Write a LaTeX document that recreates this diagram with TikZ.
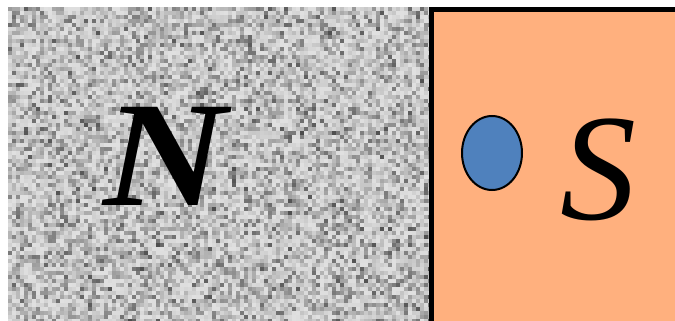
\documentclass[tikz,border=0pt]{standalone}
\usepackage{fontspec}
\usetikzlibrary{shapes.geometric}
\setmainfont{Liberation Serif}
\definecolor{sorange}{HTML}{FFB07E}
\definecolor{dotblue}{HTML}{4F81BD}
\tikzset{
  cell/.style={draw=none},
  letter/.style={inner sep=0pt, anchor=base, text=black},
}
\begin{document}
\begin{tikzpicture}[x=1pt,y=-1pt]
\useasboundingbox (0,0) rectangle (675,321);
\clip (0,0) rectangle (675,321);
\pgfmathsetseed{12345}
% noisy grey region
\fill[black!30!white] (8,7) rectangle (432,321);
\foreach \i in {0,...,105}{
  \foreach \j in {0,...,78}{
    \pgfmathsetmacro\g{int(12+60*rnd*rnd)}
    \fill[cell, black!\g!white] (8+4*\i,7+4*\j) rectangle ++(4.3,4.3);
  }
}
% N label
\node[letter, font={\fontsize{150}{150}\selectfont\bfseries\itshape}, xscale=1.14] (N) at (165,205) {N};
% orange region
\fill[sorange] (432,10) rectangle (680,330);
\draw[line width=5pt] (431.5,330) -- (431.5,9.5) -- (680,9.5);
% blue dot
\node[draw=black, line width=2pt, fill=dotblue, ellipse, minimum width=60pt, minimum height=74pt, inner sep=0pt] (dot) at (492,153) {};
\node[letter, font={\fontsize{152}{152}\selectfont\itshape}] (S) at (598,219) {S};
\end{tikzpicture}
\end{document}
